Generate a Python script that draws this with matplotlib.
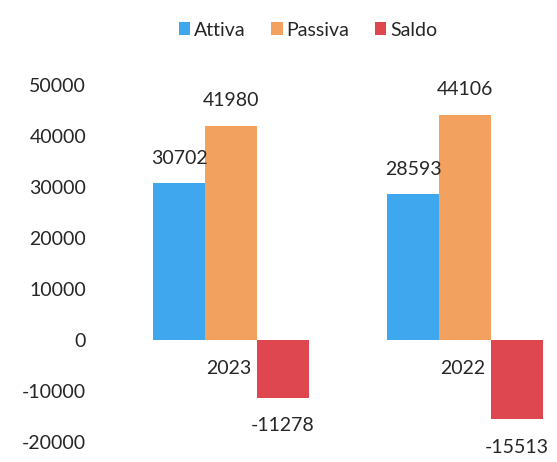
import matplotlib
matplotlib.use("Agg")
import matplotlib.pyplot as plt
import numpy as np

categories = ["2023", "2022"]
series_names = ["Attiva", "Passiva", "Saldo"]
attiva = [30702, 28593]
passiva = [41980, 44106]
saldo = [-11278, -15513]
yticks = [-20000, -10000, 0, 10000, 20000, 30000, 40000, 50000]

colors = ["#3FA7EE", "#F2A15E", "#DE4650"]
plt.rcParams['font.family'] = ['Lato', 'DejaVu Sans']
txt = "#262626"
fs = 14

fig = plt.figure(figsize=(5.57, 4.62), dpi=100)
ax = fig.add_axes([100/557, 20/462, 457/557, 357/462])

x = np.arange(len(categories))
w = 0.222
data = [attiva, passiva, saldo]
for i, (name, vals, c) in enumerate(zip(series_names, data, colors)):
    b = ax.bar(x + (i - 1) * w, vals, w, color=c, label=name, clip_on=False)
    for rect, v in zip(b, vals):
        cx = rect.get_x() + rect.get_width() / 2
        if v >= 0:
            ax.annotate(f"{v}", (cx, v), xytext=(0, 12), textcoords="offset points",
                        ha="center", va="bottom", fontsize=fs, color=txt, annotation_clip=False)
        else:
            ax.annotate(f"{v}", (cx, v), xytext=(0, -14), textcoords="offset points",
                        ha="center", va="top", fontsize=fs, color=txt, annotation_clip=False)

ax.set_xlim((100 - 231) / 234, (557 - 231) / 234)
ax.set_ylim(-20000, 50000)
ax.set_yticks(yticks)
ax.set_yticklabels([str(t) for t in yticks], fontsize=fs, color=txt)
ax.set_xticks([])
for i, cat in enumerate(categories):
    ax.text(x[i] - 0.01, -5500, cat, ha="center", va="center", fontsize=fs, color=txt)
for s in ax.spines.values():
    s.set_visible(False)
ax.tick_params(axis="y", length=0, pad=10)

leg = fig.legend(loc="center", bbox_to_anchor=(308/557, 1 - 30/462), ncol=3, frameon=False,
                 fontsize=fs, handlelength=0.6, handleheight=0.6, handletextpad=0.2,
                 columnspacing=1.3)
for t in leg.get_texts():
    t.set_color(txt)

fig.savefig("out.png", dpi=100)
